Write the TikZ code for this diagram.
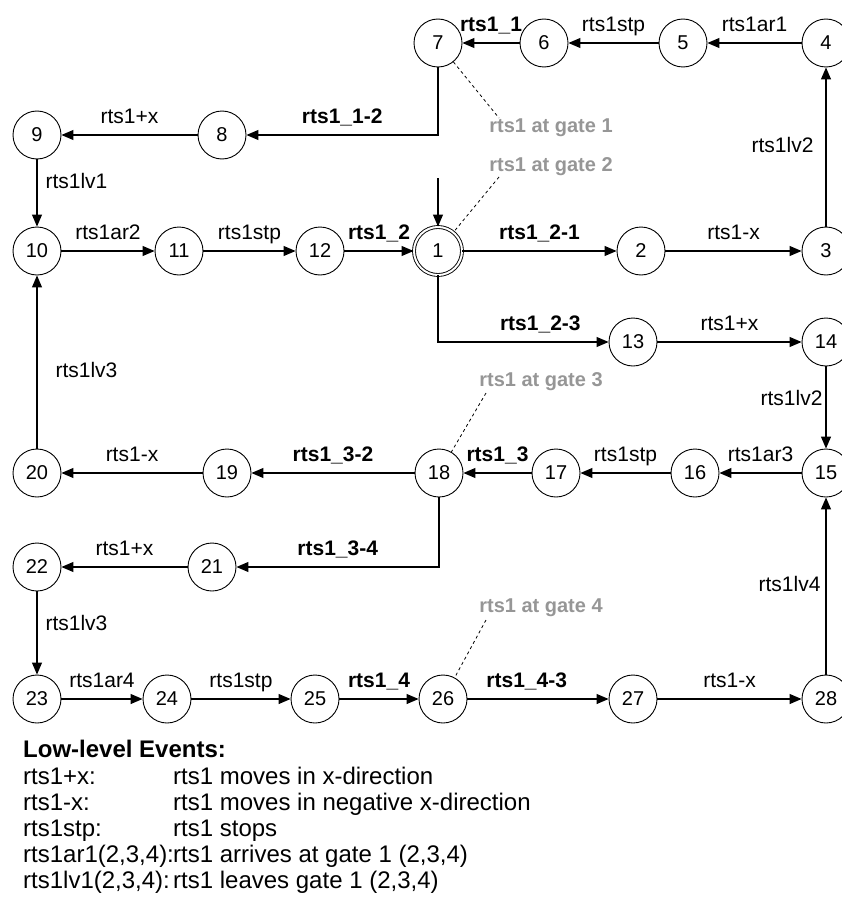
\documentclass[tikz,border=0pt]{standalone}
\usepackage{fontspec}
\setmainfont{Liberation Sans}
\usetikzlibrary{arrows.meta}

\definecolor{gatecol}{RGB}{150,150,150}
\tikzset{
    st/.style={circle, draw, line width=0.9pt, minimum size=48pt, inner sep=0pt,
        font=\fontsize{20}{22}\selectfont},
    tr/.style={line width=1.1pt, -{Triangle[length=12pt,width=10pt]}},
    lbl/.style={font=\fontsize{21}{23}\selectfont, inner sep=2pt,
        text height=15pt, text depth=4pt},
    gate/.style={font=\fontsize{20}{22}\selectfont\bfseries, text=gatecol},
    ann/.style={line width=0.8pt, dash pattern=on 3pt off 3pt},
    leg/.style={font=\fontsize{24}{26}\selectfont, anchor=base west, inner sep=0pt},
}

\begin{document}
\begin{tikzpicture}[x=1pt, y=-1pt]
    \useasboundingbox (0,0) rectangle (842,907);
    % 状態
    \foreach \n/\px/\py in {7/438/43, 6/544/43, 5/683/43, 4/826/43,
        9/37/135, 8/222/135, 10/37/251, 11/179/251, 12/320/251, 2/641/251, 3/826/251,
        13/633/342, 14/826/342,
        20/37/473, 19/227/473, 18/439/473, 17/556/473, 16/695/473, 15/826/473,
        22/37/567, 21/212/567,
        23/37/699, 24/167/699, 25/315/699, 26/443/699, 27/633/699, 28/826/699} {
        \node[st] (s\n) at (\px,\py) {\n};
    }
    \node[st, double, double distance=2pt] (s1) at (438,251) {1};
    \coordinate (init) at (438,178);
    \draw[tr] (init) -- (s1);

    % 横の遷移
    \foreach \a/\b/\lab in {4/5/rts1ar1, 5/6/rts1stp, 6/7/\textbf{rts1\_1},
        8/9/rts1+x, 10/11/rts1ar2, 11/12/rts1stp, 12/1/\textbf{rts1\_2},
        2/3/rts1-x, 13/14/rts1+x, 15/16/rts1ar3, 16/17/rts1stp,
        17/18/\textbf{rts1\_3}, 18/19/\textbf{rts1\_3-2}, 19/20/rts1-x,
        21/22/rts1+x, 23/24/rts1ar4, 24/25/rts1stp, 25/26/\textbf{rts1\_4},
        27/28/rts1-x} {
        \draw[tr] (s\a) -- node[lbl, above=5pt] {\lab} (s\b);
    }
    \draw[tr] (s1) -- node[lbl, above=5pt] {\textbf{rts1\_2-1}} (s2);
    \draw[tr] (s26) -- node[lbl, above=5pt, pos=0.42] {\textbf{rts1\_4-3}} (s27);

    % 折れ線の遷移
    \draw[tr] (s7) |- node[lbl, above=5pt, pos=0.75] {\textbf{rts1\_1-2}} (s8);
    \draw[tr] (s1) |- node[lbl, above=5pt, pos=0.8] {\textbf{rts1\_2-3}} (s13);
    \draw[tr] (s18) |- node[lbl, above=5pt, pos=0.75] {\textbf{rts1\_3-4}} (s21);

    % 縦の遷移
    \draw[tr] (s9) -- node[lbl, right=6pt, pos=0.35] {rts1lv1} (s10);
    \draw[tr] (s3) -- node[lbl, left=10pt] {rts1lv2} (s4);
    \draw[tr] (s14) -- node[lbl, left=1pt, pos=0.41] {rts1lv2} (s15);
    \draw[tr] (s20) -- node[lbl, right=16pt, pos=0.44] {rts1lv3} (s10);
    \draw[tr] (s22) -- node[lbl, right=6pt, pos=0.4] {rts1lv3} (s23);
    \draw[tr] (s28) -- node[lbl, left=3pt] {rts1lv4} (s15);

    % ゲートの注記
    \node[gate] (g1) at (551,128) {rts1 at gate 1};
    \node[gate] (g2) at (551,167) {rts1 at gate 2};
    \node[gate] (g3) at (541,382) {rts1 at gate 3};
    \node[gate] (g4) at (541,608) {rts1 at gate 4};
    \coordinate (c1) at (499,118);
    \coordinate (c2) at (499,177);
    \coordinate (c3) at (486,393);
    \coordinate (c4) at (486,620);
    \draw[ann] (s7) -- (c1);
    \draw[ann] (c2) -- (s1);
    \draw[ann] (c3) -- (s18);
    \draw[ann] (c4) -- (s26);

    % 凡例
    \node[leg, font=\fontsize{24}{26}\selectfont\bfseries] (lt) at (23,757) {Low-level Events:};
    \foreach \k/\ev/\txt [count=\i] in {a/rts1+x:/rts1 moves in x-direction,
        b/rts1-x:/rts1 moves in negative x-direction,
        c/rts1stp:/rts1 stops,
        d/{rts1ar1(2,3,4):}/{rts1 arrives at gate 1 (2,3,4)},
        e/{rts1lv1(2,3,4):}/{rts1 leaves gate 1 (2,3,4)}} {
        \node[leg] (le\k) at (23,{759+25.8*\i}) {\ev};
        \node[leg] (lx\k) at (173,{759+25.8*\i}) {\txt};
    }
\end{tikzpicture}
\end{document}
